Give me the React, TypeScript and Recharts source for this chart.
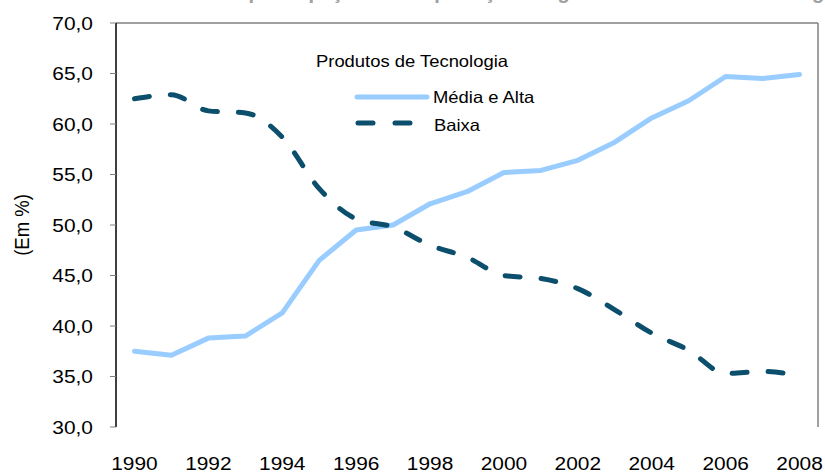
import { LineChart, Line, XAxis, YAxis, ReferenceLine, Legend } from "recharts";

// ano a ano, 1990-2008
const years = [1990, 1991, 1992, 1993, 1994, 1995, 1996, 1997, 1998, 1999, 2000, 2001, 2002, 2003, 2004, 2005, 2006, 2007, 2008];
const mediaAlta = [37.5, 37.1, 38.8, 39.0, 41.3, 46.5, 49.5, 50.0, 52.1, 53.3, 55.2, 55.4, 56.4, 58.2, 60.6, 62.3, 64.7, 64.5, 64.9];
const baixa = [62.5, 62.9, 61.3, 61.1, 58.7, 53.6, 50.6, 49.8, 48.0, 46.8, 45.0, 44.7, 43.7, 41.6, 39.3, 37.6, 35.3, 35.5, 35.1];
const yTicks = [30, 35, 40, 45, 50, 55, 60, 65, 70];
const xLabels = [1990, 1992, 1994, 1996, 1998, 2000, 2002, 2004, 2006, 2008];
const seriesNames = ["Média e Alta", "Baixa"];
const legendTitle = "Produtos de Tecnologia";
const yLabel = "(Em %)";
const title = "Gráfico 1 - Movimento da participação das exportações segundo intensidade tecnológica";

const data = years.map((year, i) => ({ year, mediaAlta: mediaAlta[i], baixa: baixa[i] }));
const bandTicks = [...years.map((y) => y - 0.5), years[years.length - 1] + 0.5];

const FONT = '"Liberation Sans", Arial, sans-serif';
const LIGHT = "#99ccff";
const DARK = "#0b4f6c";
const GRAY = "#808080";
const SX = 1.13;

const fmt = (v: number) => v.toFixed(1).replace(".", ",");

function YTick(props: any) {
  const { x, y, payload } = props;
  return (
    <text
      transform={`translate(${x},${y}) scale(${SX},1)`}
      textAnchor="end"
      dy={6.5}
      fontSize={18.5}
      fontFamily={FONT}
      fill="#000"
    >
      {fmt(payload.value)}
    </text>
  );
}

function XTick(props: any) {
  const { x, y, payload } = props;
  return (
    <text
      transform={`translate(${x},${y}) scale(${SX},1)`}
      textAnchor="middle"
      dy={13}
      fontSize={18.5}
      fontFamily={FONT}
      fill="#000"
    >
      {payload.value}
    </text>
  );
}

function YLabel(props: any) {
  const { viewBox } = props;
  const cx = viewBox.x + 22;
  const cy = viewBox.y + viewBox.height / 2;
  return (
    <text
      transform={`translate(${cx},${cy}) rotate(-90) scale(1,${SX})`}
      textAnchor="middle"
      dy={6.5}
      fontSize={18.5}
      fontFamily={FONT}
      fill="#000"
    >
      {yLabel}
    </text>
  );
}

function LegendBox() {
  const t = `scale(${SX},1)`;
  return (
    <svg width={260} height={100} style={{ display: "block", overflow: "visible" }}>
      <text x={16 / SX} y={27} transform={t} fontSize={16.3} fontFamily={FONT} fill="#000">
        {legendTitle}
      </text>
      <line x1={57} x2={127} y1={57} y2={57} stroke={LIGHT} strokeWidth={5} strokeLinecap="round" />
      <text x={133 / SX} y={63} transform={t} fontSize={16.3} fontFamily={FONT} fill="#000">
        {seriesNames[0]}
      </text>
      <line x1={58} x2={113} y1={83} y2={83} stroke={DARK} strokeWidth={5} strokeLinecap="round" strokeDasharray="15 22" />
      <text x={134 / SX} y={91} transform={t} fontSize={16.3} fontFamily={FONT} fill="#000">
        {seriesNames[1]}
      </text>
    </svg>
  );
}

export default function App() {
  return (
    <div style={{ position: "absolute", left: 0, top: 0, width: 825, height: 473, overflow: "hidden", background: "#fff" }}>
      <div
        style={{
          position: "absolute",
          left: 4,
          top: -19,
          whiteSpace: "nowrap",
          fontFamily: FONT,
          fontWeight: "bold",
          fontSize: 20,
          color: "#a0a0a0",
        }}
      >
        {title}
      </div>
      <LineChart width={825} height={473} data={data} margin={{ top: 23, right: 7, bottom: 0, left: 0 }}>
        <XAxis
          dataKey="year"
          type="number"
          domain={[1989.5, 2008.5]}
          ticks={bandTicks}
          tick={false}
          tickLine={{ stroke: "#333" }}
          tickSize={7}
          axisLine={{ stroke: "#000", strokeWidth: 1.5 }}
          height={0}
          allowDataOverflow
        />
        <XAxis
          xAxisId="labels"
          dataKey="year"
          type="number"
          domain={[1989.5, 2008.5]}
          ticks={xLabels}
          interval={0}
          tick={<XTick />}
          tickLine={false}
          axisLine={false}
          tickSize={0}
          tickMargin={30}
          height={46}
          allowDataOverflow
        />
        <YAxis
          domain={[30, 70]}
          ticks={yTicks}
          interval={0}
          width={116}
          tick={<YTick />}
          tickSize={6}
          tickMargin={17}
          tickLine={{ stroke: GRAY }}
          axisLine={{ stroke: "#000", strokeWidth: 1.5 }}
          label={<YLabel />}
        />
        <ReferenceLine y={70} stroke={GRAY} strokeWidth={1.5} />
        <ReferenceLine x={2008.5} stroke={GRAY} strokeWidth={1.5} />
        <Line
          dataKey="mediaAlta"
          name={seriesNames[0]}
          type="linear"
          stroke={LIGHT}
          strokeWidth={5}
          strokeLinejoin="round"
          strokeLinecap="round"
          dot={false}
          activeDot={false}
          isAnimationActive={false}
        />
        <Line
          dataKey="baixa"
          name={seriesNames[1]}
          type="monotone"
          stroke={DARK}
          strokeWidth={5}
          strokeLinecap="round"
          strokeDasharray="15 21"
          dot={false}
          activeDot={false}
          isAnimationActive={false}
        />
        <Legend
          layout="vertical"
          align="center"
          verticalAlign="middle"
          content={() => <LegendBox />}
          wrapperStyle={{ position: "absolute", left: 300, top: 40, width: 260, height: 100 }}
        />
      </LineChart>
    </div>
  );
}
